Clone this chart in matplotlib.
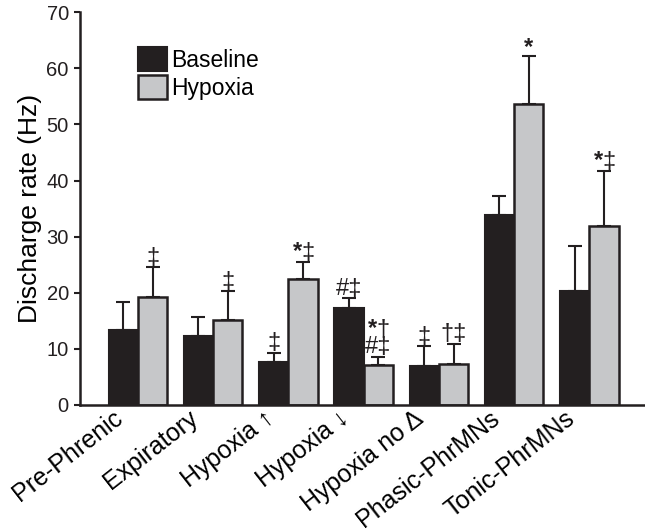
import matplotlib
matplotlib.use("Agg")
import matplotlib.pyplot as plt
import matplotlib.transforms as mtransforms
import numpy as np

plt.rcParams['font.family'] = ['Liberation Sans', 'DejaVu Sans']
plt.rcParams['mathtext.fontset'] = 'custom'
plt.rcParams['mathtext.bf'] = 'Liberation Sans:bold'
plt.rcParams['mathtext.rm'] = 'Liberation Sans'

categories = ["Pre-Phrenic", "Expiratory", "Hypoxia \u2191", "Hypoxia \u2193",
              "Hypoxia no \u0394", "Phasic-PhrMNs", "Tonic-PhrMNs"]
baseline = [13.3, 12.2, 7.7, 17.3, 7.0, 33.8, 20.3]
baseline_err = [5.0, 3.5, 1.6, 1.7, 3.5, 3.5, 8.1]
hypoxia = [19.2, 15.1, 22.4, 7.1, 7.2, 53.6, 31.9]
hypoxia_err = [5.4, 5.2, 3.0, 1.5, 3.7, 8.6, 9.8]
baseline_marks = ["", "", "\u2021", "#\u2021", "\u2021", "", ""]
hypoxia_marks = ["\u2021", "\u2021", "*\u2021", "*\u2020\n#\u2021", "\u2020\u2021", "*", "*\u2021"]

fig = plt.figure(figsize=(6.45, 5.32), dpi=100)
ax = fig.add_axes([0.124, 0.239, 0.876, 0.738])

x = np.arange(len(categories))
w = 0.39
ax.bar(x - w/2, baseline, w, color='#231f20', edgecolor='#231f20', linewidth=1.5,
       label='Baseline', zorder=2)
ax.bar(x + w/2, hypoxia, w, color='#c6c7c9', edgecolor='#231f20', linewidth=1.8,
       label='Hypoxia', zorder=2)
ax.errorbar(x - w/2, baseline, yerr=[np.zeros(len(x)), baseline_err], fmt='none',
            ecolor='#231f20', elinewidth=1.5, capsize=5, capthick=1.5, zorder=1)
ax.errorbar(x + w/2, hypoxia, yerr=[np.zeros(len(x)), hypoxia_err], fmt='none',
            ecolor='#231f20', elinewidth=1.5, capsize=5, capthick=1.5, zorder=1)

def draw_marks(xpos, top, s):
    if not s:
        return
    s = s.replace('*', r'$\mathbf{*}$')
    ax.text(xpos, top - 0.3, s, ha='center', va='bottom', fontsize=17,
            linespacing=0.75, color='#231f20')

for i in range(len(x)):
    draw_marks(x[i] - w/2, baseline[i] + baseline_err[i], baseline_marks[i])
    draw_marks(x[i] + w/2, hypoxia[i] + hypoxia_err[i], hypoxia_marks[i])

ax.set_xlim(-0.77, 6.74)
ax.set_ylim(0, 70)
ax.set_yticks(range(0, 71, 10))
ax.tick_params(axis='y', labelsize=14.5, width=1.5, length=4.5, colors='#231f20')
ax.set_xticks(x)
ax.set_xticklabels(categories, rotation=38, ha='right', rotation_mode='anchor', fontsize=18)
ax.tick_params(axis='x', length=0, pad=8)
offset = mtransforms.ScaledTranslation(-25/100, 10/100, fig.dpi_scale_trans)
for lab in ax.get_xticklabels():
    lab.set_transform(lab.get_transform() + offset)
ax.set_ylabel("Discharge rate (Hz)", fontsize=19, labelpad=3)
for s in ['top', 'right']:
    ax.spines[s].set_visible(False)
for s in ['left', 'bottom']:
    ax.spines[s].set_linewidth(1.8)
    ax.spines[s].set_color('#231f20')

ax.legend(loc='upper left', bbox_to_anchor=(0.103, 0.911), frameon=False, fontsize=16.5,
          handlelength=1.25, handleheight=1.25, handletextpad=0.2, labelspacing=0.12,
          borderpad=0, borderaxespad=0)

fig.savefig("out.png", dpi=100)
